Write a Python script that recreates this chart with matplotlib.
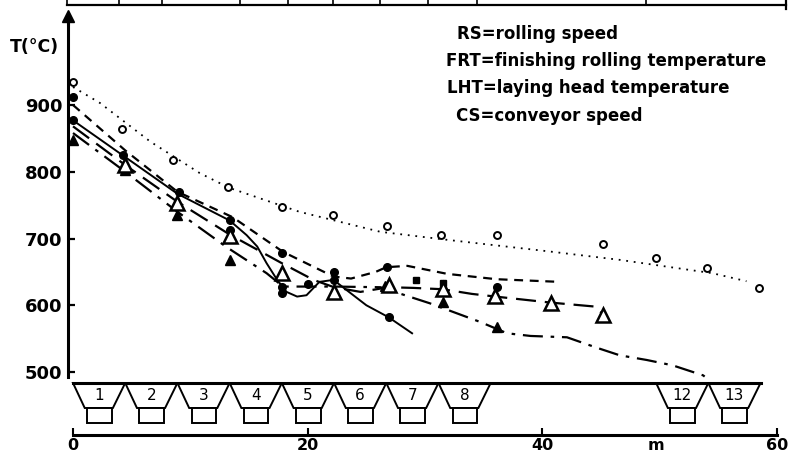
import matplotlib
matplotlib.use("Agg")
import matplotlib.pyplot as plt
from matplotlib.patches import Polygon, Rectangle

# ---------------- data ----------------
# distance along the mill (m) / temperature (deg C)
dotted_x = [0, 2.3, 6.6, 10.8, 13.3, 19.3, 26.2, 31.9, 40.4, 46.6, 54.5, 57.4]
dotted_T = [927, 903, 845, 798, 776, 740, 710, 698, 681, 668, 648, 636]

open_circle_x = [0, 4.2, 8.5, 13.2, 17.8, 22.2, 26.8, 31.4, 36.1, 45.2, 49.7, 54.0, 58.5]
open_circle_T = [935, 864, 818, 777, 747, 735, 719, 705, 705, 692, 671, 656, 626]

short_dash_x = [0, 4.45, 8.9, 13.6, 17.9, 22.2, 23.7, 25.8, 26.7, 28.5, 31.9, 36.1, 41.5]
short_dash_T = [900, 832, 770, 732, 680, 643, 640, 650, 657, 659, 647, 639, 635]

solid_x = [0, 4.45, 8.9, 13.35, 14.8, 15.7, 16.5, 17.4, 18.2, 19.1, 19.9, 21.0, 22.2,
           23.3, 25.0, 26.9, 28.9]
solid_T = [877, 822, 767, 727, 705, 688, 663, 638, 620, 613, 615, 635, 638,
           623, 600, 582, 558]

long_dash_x = [0, 4.45, 8.9, 13.35, 17.8, 20.5, 22.25, 24.5, 26.9, 29.0, 31.5, 34.0,
               36.0, 40.7, 44.5, 45.2]
long_dash_T = [868, 810, 755, 706, 663, 638, 627, 620, 627, 626, 624, 617,
               613, 604, 598, 586]

dash_dot_x = [0, 4.45, 8.9, 13.1, 16.5, 17.9, 20.8, 22.25, 26.2, 30.4, 34.7, 37.0,
              39.0, 42.1, 44.7, 46.6, 48.9, 51.1, 53.7, 54.3]
dash_dot_T = [858, 800, 740, 687, 648, 628, 628, 628, 627, 603, 575, 558,
              554, 552, 536, 525, 518, 510, 495, 487]

filled_circle_x = [0, 0, 4.3, 9.0, 13.35, 13.35, 17.8, 17.8, 17.8, 20.0, 22.25, 22.25,
                   26.8, 26.9, 36.1]
filled_circle_T = [912, 877, 825, 769, 728, 712, 678, 627, 618, 632, 650, 638,
                   657, 582, 627]

filled_square_x = [29.2, 31.5]
filled_square_T = [638, 634]

filled_tri_x = [0, 4.45, 8.9, 13.35, 26.6, 31.5, 36.1]
filled_tri_T = [847, 803, 735, 668, 629, 605, 568]

open_tri_x = [4.45, 8.9, 13.35, 17.8, 22.25, 26.9, 31.5, 36.0, 40.7, 45.2]
open_tri_T = [810, 753, 703, 648, 620, 630, 624, 614, 603, 585]

y_ticks = [500, 600, 700, 800, 900]
x_ticks = [0, 20, 40, 60]
x_tick_labels = ["0", "20", "40", "60"]

stand_labels = ["1", "2", "3", "4", "5", "6", "7", "8", "12", "13"]
stand_starts = [0, 4.45, 8.9, 13.35, 17.8, 22.25, 26.7, 31.15, 49.7, 54.15]
stand_width = 4.45

legend_lines = ["RS=rolling speed", "FRT=finishing rolling temperature",
                "LHT=laying head temperature", "CS=conveyor speed"]

# ---------------- layout helpers (pixel geometry) ----------------
W, H = 788, 458
PXM = 11.733   # px per metre
X0 = 73        # px of x = 0
PXT = 0.6675   # px per deg C
Y500 = 372     # px of T = 500
AXIS_Y = 435   # px of the distance axis line
STAND_TOP = 383


def fx(px):
    return px / W


def fy(py):
    return 1 - py / H


def m_at(px):
    return (px - X0) / PXM


def T_at(py):
    return 500 + (Y500 - py) / PXT


fig = plt.figure(figsize=(W / 100, H / 100), dpi=100)
fig.patch.set_facecolor("white")

# top frame (edge of the upper diagram)
ax0 = fig.add_axes([0, 0, 1, 1])
ax0.set_xlim(0, W)
ax0.set_ylim(H, 0)
ax0.axis("off")
ax0.plot([67, 786], [5, 5], color="black", lw=1.6)
for tx in [67, 119, 162, 240, 288, 333, 380, 428, 477, 646, 786]:
    ax0.plot([tx, tx], [0, 5], color="black", lw=1.2)
ax0.plot([786, 786], [0, 9], color="black", lw=1.6)

# ---------------- main temperature axes ----------------
ax = fig.add_axes([fx(68), fy(STAND_TOP), fx(788) - fx(68), fy(12) - fy(STAND_TOP)])
ax.set_xlim(m_at(68), m_at(788))
ax.set_ylim(T_at(STAND_TOP), T_at(12))
ax.patch.set_alpha(0)
for s in ["top", "right", "bottom"]:
    ax.spines[s].set_visible(False)
ax.spines["left"].set_linewidth(2.2)
ax.spines["left"].set_bounds(T_at(377), T_at(20))
ax.set_xticks([])
ax.set_yticks(y_ticks)
ax.set_yticklabels([str(v) for v in y_ticks])
ax.tick_params(axis="y", direction="in", length=5, width=1.6, pad=4, labelsize=13)
for lab in ax.get_yticklabels():
    lab.set_fontweight("bold")
ax.plot([0], [T_at(16)], marker="^", color="black", markersize=8,
        transform=ax.get_yaxis_transform(), clip_on=False)
ax.plot([0, 0], [T_at(20), T_at(24)], color="black", lw=2.2,
        transform=ax.get_yaxis_transform(), clip_on=False)

ax.plot(dotted_x, dotted_T, color="black", lw=1.3, linestyle=(0, (1, 3.2)))
ax.plot(short_dash_x, short_dash_T, color="black", lw=1.6, linestyle=(0, (4, 3)))
ax.plot(solid_x, solid_T, color="black", lw=1.4, linestyle="-")
ax.plot(long_dash_x, long_dash_T, color="black", lw=1.6, linestyle=(0, (9, 4)))
ax.plot(dash_dot_x, dash_dot_T, color="black", lw=1.6,
        linestyle=(0, (9, 3.5, 1.6, 3.5)), clip_on=False)

ax.plot(open_circle_x, open_circle_T, "o", mfc="white", mec="black", mew=1.4,
        ms=5, clip_on=False, zorder=5)
ax.plot(filled_circle_x, filled_circle_T, "o", color="black", ms=5.5,
        clip_on=False, zorder=5)
ax.plot(filled_square_x, filled_square_T, "s", color="black", ms=5, zorder=5)
ax.plot(filled_tri_x, filled_tri_T, "^", color="black", ms=7, clip_on=False, zorder=5)
ax.plot(open_tri_x, open_tri_T, "^", mfc="white", mec="black", mew=1.8, ms=9.5,
        zorder=6)

fig.text(fx(10), fy(47), "T(°C)", fontsize=12.5, fontweight="bold",
         ha="left", va="center")

leg_pos = [(457, 34), (446, 61), (447, 88), (456, 116)]
for (px, py), txt in zip(leg_pos, legend_lines):
    fig.text(fx(px), fy(py), txt, fontsize=12, fontweight="bold",
             ha="left", va="center")

# ---------------- stands + distance axis ----------------
ax2 = fig.add_axes([fx(68), fy(AXIS_Y), fx(788) - fx(68), fy(STAND_TOP) - fy(AXIS_Y)])
ax2.set_xlim(m_at(68), m_at(788))
ax2.set_ylim(0, AXIS_Y - STAND_TOP)
ax2.patch.set_alpha(0)
for s in ["top", "right", "left"]:
    ax2.spines[s].set_visible(False)
ax2.spines["bottom"].set_linewidth(2.2)
ax2.spines["bottom"].set_bounds(x_ticks[0], x_ticks[-1])
ax2.set_yticks([])
ax2.set_xticks(x_ticks)
ax2.set_xticklabels(x_tick_labels)
ax2.tick_params(axis="x", direction="in", length=5, width=1.5, pad=2.5, labelsize=11.5)
for lab in ax2.get_xticklabels():
    lab.set_fontweight("bold")
ax2.text(49.7, -0.06, "m", transform=ax2.get_xaxis_transform(), fontsize=11.5,
         fontweight="bold", ha="center", va="top")

top_u = AXIS_Y - STAND_TOP          # stand top in ax2 units (px above axis)
bot_u = AXIS_Y - 408                # trapezoid bottom
rect_u = AXIS_Y - 423               # rectangle bottom
ax2.plot([stand_starts[0], stand_starts[-1] + stand_width], [top_u, top_u],
         color="black", lw=2.2, clip_on=False, zorder=4)
for s0, lab in zip(stand_starts, stand_labels):
    trap = Polygon([(s0, top_u), (s0 + stand_width, top_u), (s0 + 3.4, bot_u),
                    (s0 + 1.0, bot_u)],
                   closed=True, facecolor="white", edgecolor="black", lw=1.4,
                   clip_on=False)
    ax2.add_patch(trap)
    rect = Rectangle((s0 + 1.2, rect_u), 2.1, bot_u - rect_u, facecolor="white",
                     edgecolor="black", lw=1.4, clip_on=False)
    ax2.add_patch(rect)
    ax2.text(s0 + stand_width / 2, (top_u + bot_u) / 2, lab, fontsize=11,
             ha="center", va="center")

fig.savefig("out.png", dpi=100, facecolor="white")
